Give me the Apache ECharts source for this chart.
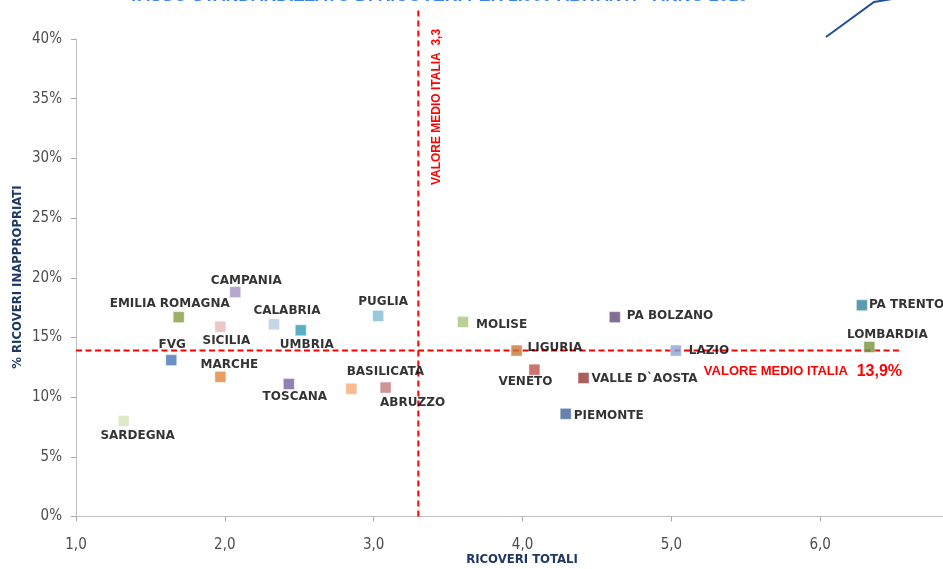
<!DOCTYPE html>
<html>
<head>
<meta charset="utf-8">
<script src="https://cdn.jsdelivr.net/npm/echarts@6/dist/echarts.min.js"></script>
<style>
  html, body { margin: 0; padding: 0; background: #fff; }
  #chart { width: 943px; height: 569px; }
</style>
</head>
<body>
<div id="chart"></div>
<script>
// Regioni: ricoveri totali (asse X) e % ricoveri inappropriati (asse Y)
const regions = [
  'SARDEGNA', 'FVG', 'EMILIA ROMAGNA', 'MARCHE', 'SICILIA', 'CAMPANIA', 'CALABRIA',
  'UMBRIA', 'TOSCANA', 'BASILICATA', 'ABRUZZO', 'PUGLIA', 'MOLISE', 'LIGURIA',
  'VENETO', 'VALLE D`AOSTA', 'PIEMONTE', 'PA BOLZANO', 'LAZIO', 'PA TRENTO', 'LOMBARDIA'
];
const ricoveriTotali = [
  1.32, 1.64, 1.69, 1.97, 1.97, 2.07, 2.33,
  2.51, 2.43, 2.85, 3.08, 3.03, 3.60, 3.96,
  4.08, 4.41, 4.29, 4.62, 5.03, 6.28, 6.33
];
const percInappropriati = [
  8.0, 13.1, 16.7, 11.7, 15.9, 18.8, 16.1,
  15.6, 11.1, 10.7, 10.8, 16.8, 16.3, 13.9,
  12.3, 11.6, 8.6, 16.7, 13.9, 17.7, 14.2
];
// Valori medi nazionali
const mediaRicoveriTotali = 3.3;
const mediaInappropriati = 13.9;
const yTickLabels = [0, 5, 10, 15, 20, 25, 30, 35, 40];
const xTickLabels = [1, 2, 3, 4, 5, 6];

// Colori dei marcatori, nello stesso ordine delle regioni
const markerColors = [
  '#d4e3bc', '#4a76b6', '#7f9c3f', '#e5853a', '#e6b8b7', '#a392c2', '#b8c8e3',
  '#2f9cb4', '#7b60a3', '#f8a972', '#c27b7d', '#80bad5', '#a8c67a', '#c77634',
  '#c0504d', '#953735', '#3d6599', '#604a7b', '#8aa5d6', '#31859c', '#76923c'
];

// Posizione delle etichette: [modo, dx, dy]; 'c' = centrata sul punto + spostamento,
// 'r' = a destra del marcatore (dx = distanza dal bordo)
const labelPlace = {
  'SARDEGNA': ['c', 14, 15], 'FVG': ['c', 1, -15], 'EMILIA ROMAGNA': ['c', -9, -13],
  'MARCHE': ['c', 9, -12], 'SICILIA': ['c', 6, 14], 'CAMPANIA': ['c', 11, -11],
  'CALABRIA': ['c', 13, -13], 'UMBRIA': ['c', 6, 15], 'TOSCANA': ['c', 6, 13],
  'BASILICATA': ['c', 34, -17], 'ABRUZZO': ['c', 27, 15], 'PUGLIA': ['c', 5, -14],
  'MOLISE': ['r', 7, 3], 'LIGURIA': ['r', 5, -3], 'VENETO': ['c', -9, 12],
  'VALLE D`AOSTA': ['r', 2, 1], 'PIEMONTE': ['r', 2, 2], 'PA BOLZANO': ['r', 6, -1],
  'LAZIO': ['r', 7, 0], 'PA TRENTO': ['r', 1, 0], 'LOMBARDIA': ['c', 18, -12]
};

const X_MIN = 1, X_MAX = 6.825, Y_MIN = 0, Y_MAX = 40;
const axisFont = "'Liberation Sans Narrow', 'DejaVu Sans Condensed', 'Liberation Sans', sans-serif";
const labelFont = "'DejaVu Sans', Verdana, sans-serif";
const redFont = "'Liberation Sans', Arial, sans-serif";

const points = regions.map((name, i) => {
  const p = labelPlace[name];
  const label = p[0] === 'c'
    ? { position: 'inside', offset: [p[1], p[2]] }
    : { position: 'right', distance: p[1], offset: [0, p[2]] };
  return {
    name: name,
    value: [ricoveriTotali[i], percInappropriati[i]],
    itemStyle: { color: markerColors[i] },
    label: label
  };
});

const chart = echarts.init(document.getElementById('chart'), null, { renderer: 'canvas' });

const option = {
  animation: false,
  backgroundColor: '#ffffff',
  grid: { left: 76, right: 0, top: 39, bottom: 52.5, containLabel: false },
  xAxis: {
    type: 'value', min: X_MIN, max: X_MAX, interval: 1,
    axisLine: { show: true, lineStyle: { color: '#bfbfbf', width: 1 } },
    axisTick: { show: true, length: 5, lineStyle: { color: '#a6a6a6' } },
    splitLine: { show: false },
    axisLabel: {
      margin: 21, color: '#4d4d4d', fontFamily: axisFont, fontSize: 15,
      showMaxLabel: false,
      formatter: v => xTickLabels.includes(v) ? v.toFixed(1).replace('.', ',') : ''
    }
  },
  yAxis: {
    type: 'value', min: Y_MIN, max: Y_MAX, interval: 5,
    axisLine: { show: true, lineStyle: { color: '#bfbfbf', width: 1 } },
    axisTick: { show: true, length: 5, lineStyle: { color: '#a6a6a6' } },
    splitLine: { show: false },
    axisLabel: {
      margin: 14, color: '#4d4d4d', fontFamily: axisFont, fontSize: 15,
      formatter: v => yTickLabels.includes(v) ? v + '%' : ''
    }
  },
  series: [
    {
      // media nazionale della percentuale di ricoveri inappropriati
      type: 'line', clip: false, silent: true, symbol: 'none',
      lineStyle: { color: '#ff0000', width: 2, type: [6, 3.5] },
      data: [[X_MIN, mediaInappropriati], [6.55, mediaInappropriati]],
      z: 1
    },
    {
      // media nazionale dei ricoveri totali
      type: 'line', clip: false, silent: true, symbol: 'none',
      lineStyle: { color: '#ff0000', width: 2, type: [6, 4] },
      data: [[mediaRicoveriTotali, Y_MIN], [mediaRicoveriTotali, 42.6]],
      z: 1
    },
    {
      type: 'scatter',
      symbol: 'rect',
      symbolSize: 11,
      itemStyle: { borderColor: 'rgba(255,255,255,0.55)', borderWidth: 1 },
      label: {
        show: true,
        formatter: '{b}',
        color: '#000000',
        fontFamily: labelFont,
        fontWeight: 'bold',
        fontSize: 12
      },
      data: points,
      z: 3
    }
  ]
};

chart.setOption(option);

// Testi e decorazioni posizionati sulle linee medie
const vTop = chart.convertToPixel({ gridIndex: 0 }, [mediaRicoveriTotali, 0]);
const hEnd = chart.convertToPixel({ gridIndex: 0 }, [6.55, mediaInappropriati]);

chart.setOption({
  graphic: [
    {
      type: 'text', silent: true,
      x: 438, y: -4,
      style: {
        text: 'TASSO STANDARDIZZATO DI RICOVERI PER 1.000 ABITANTI - ANNO 2010',
        fill: '#3b82f6', font: "bold 17.5px 'Liberation Sans', Arial, sans-serif",
        textAlign: 'center', textVerticalAlign: 'middle'
      }
    },
    {
      type: 'polyline', silent: true,
      shape: { points: [[826, 37], [874, 2], [892, -1]] },
      style: { stroke: '#1f4e99', lineWidth: 2, fill: null }
    },
    {
      type: 'text', silent: true,
      x: vTop[0] + 18, y: 107, rotation: Math.PI / 2,
      style: {
        text: 'VALORE MEDIO ITALIA  3,3',
        fill: '#ff0000', font: "bold 12px 'Liberation Sans', Arial, sans-serif",
        textAlign: 'center', textVerticalAlign: 'middle'
      }
    },
    {
      type: 'text', silent: true,
      x: hEnd[0], y: hEnd[1] + 21,
      style: {
        text: '{a|VALORE MEDIO ITALIA}{b|  13,9%}',
        textAlign: 'right', textVerticalAlign: 'middle',
        rich: {
          a: { fill: '#ff0000', font: "bold 13px " + redFont },
          b: { fill: '#ff0000', font: "bold 16px " + redFont }
        }
      }
    },
    {
      type: 'text', silent: true,
      x: 18, y: 277, rotation: Math.PI / 2,
      style: {
        text: '% RICOVERI INAPPROPRIATI',
        fill: '#1f3864', font: "bold 13px " + axisFont,
        textAlign: 'center', textVerticalAlign: 'middle'
      }
    },
    {
      type: 'text', silent: true,
      x: 522, y: 560,
      style: {
        text: 'RICOVERI TOTALI',
        fill: '#1f3864', font: "bold 13px " + axisFont,
        textAlign: 'center', textVerticalAlign: 'middle'
      }
    }
  ]
});
</script>
</body>
</html>
